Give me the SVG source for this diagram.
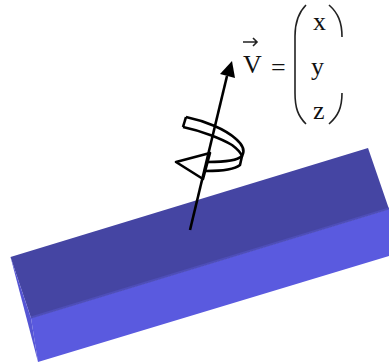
<svg xmlns="http://www.w3.org/2000/svg" width="389" height="362" viewBox="0 0 389 362">
<style>
text{font-family:"Liberation Serif","Times New Roman",serif;fill:#111;font-size:26px}
.l{fill:none;stroke:#000;stroke-width:2.6;stroke-linejoin:round}
.p{fill:none;stroke:#222;stroke-width:1.6}
</style>
<g id="bar">
<path d="M10.500 257 L368 148 L389 209 L31 318Z" fill="#4545a3"/>
<path d="M31 318 L389 209 V256 L38 362Z" fill="#5a5adf"/>
<path d="M10.500 257 L31 318 L38 362Z" fill="#5555d4"/>
<path d="M31 317.500 L389 208.500" fill="none" stroke="#4e4eb8" stroke-width="2"/>
</g>
<g id="connectors">
<path class="l" d="M190 230 L227 76"/>
<path d="M232 61 L235 78 L220 74Z" fill="#000"/>
</g>
<g id="rotation">
<path class="l" d="M186 117 C205 121 225 129 236 139 C243 145 245 151 242 156 C237 161 225 162 208 162"/>
<path class="l" d="M183 127 C202 131 222 139 232 145 C236 148 240 151 242 156 L240 165 C234 170 222 171 206 171"/>
<path class="l" d="M186 117 L183 127"/>
<path class="l" d="M210 153 L176 162 L203 179 Z"/>
</g>
<g id="formula">
<text x="243" y="73">V</text>
<path class="p" d="M243 42 H257 M253 38 L257 42 L253 46"/>
<text x="271" y="76">=</text>
<path class="p" d="M306 5 C298 13 295 22 295 36 V93 C295 108 298 116 306 124"/>
<path class="p" d="M329 5 C338 13 342 22 342 37"/>
<path class="p" d="M329 124 C338 116 342 108 342 93"/>
<text x="313" y="30">x</text>
<text x="311" y="75">y</text>
<text x="313" y="119">z</text>
</g>
</svg>
